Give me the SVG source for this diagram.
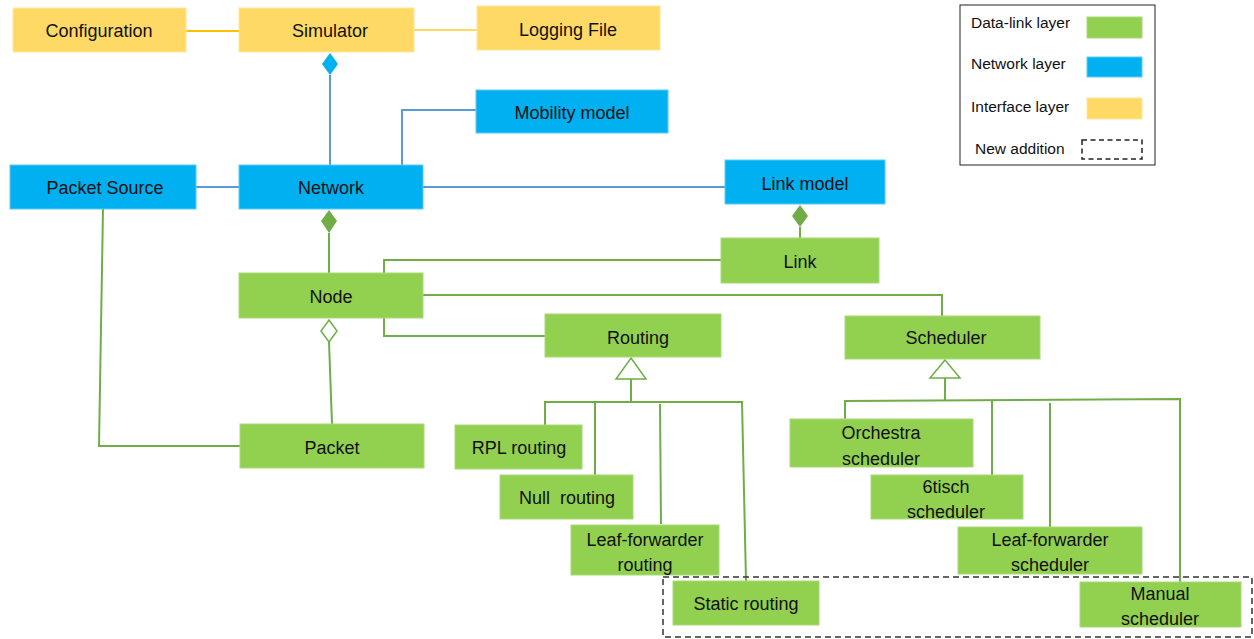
<svg xmlns="http://www.w3.org/2000/svg" width="1254" height="639" viewBox="0 0 1254 639">
  <style>
    text { font-family: "Liberation Sans", Arial, sans-serif; font-size: 18px; fill: #111; text-anchor: middle; }
    .leg { font-size: 15.5px; text-anchor: start; }
    .dl { fill: #92D050; stroke: #A9DA78; stroke-width: 1; }
    .nw { fill: #00B0F0; stroke: #5CCBF3; stroke-width: 1; }
    .if { fill: #FFD966; stroke: #FFE699; stroke-width: 1; }
    .g { stroke: #70AD47; stroke-width: 2; fill: none; }
    .b { stroke: #5B9BD5; stroke-width: 2; fill: none; }
    .dash { fill: none; stroke: #333; stroke-width: 1.5; stroke-dasharray: 6 4; }
  </style>

  <!-- connectors -->
  <g id="connectors">
    <line x1="186" y1="31" x2="239" y2="31" stroke="#FFC000" stroke-width="2"/>
    <line x1="414" y1="30" x2="477" y2="30" stroke="#FFD966" stroke-width="2"/>
    <!-- Simulator composed of Network -->
    <polygon points="330,53 338,64 330,75 322,64" fill="#00B0F0"/>
    <line class="b" x1="330" y1="75" x2="330" y2="165"/>
    <polyline class="b" points="402,165 402,110 476,110"/>
    <line class="b" x1="196" y1="187" x2="239" y2="187"/>
    <line class="b" x1="423" y1="187" x2="725" y2="187"/>
    <!-- Link model composed of Link -->
    <polygon points="800,205 808,216 800,227 792,216" fill="#70AD47"/>
    <line class="g" x1="800" y1="227" x2="800" y2="238"/>
    <!-- Network composed of Node -->
    <polygon points="329,210 337,221 329,233 321,221" fill="#70AD47"/>
    <line class="g" x1="329" y1="233" x2="329" y2="273"/>
    <polyline class="g" points="721,260 384,260 384,273"/>
    <polyline class="g" points="423,295 942,295 942,316"/>
    <polyline class="g" points="384,318 384,336 545,336"/>
    <!-- Node aggregates Packet -->
    <polygon points="329,320 337,331 329,342 321,331" fill="#fff" stroke="#70AD47" stroke-width="1.5"/>
    <line class="g" x1="329" y1="342" x2="332" y2="424"/>
    <polyline class="g" points="103,209 99,446 240,446"/>
    <!-- Routing generalization -->
    <polygon points="631,358 646,379 616,379" fill="#fff" stroke="#70AD47" stroke-width="1.5"/>
    <line class="g" x1="631" y1="379" x2="631" y2="402"/>
    <polyline class="g" points="545,425 545,402 742,402 746,581"/>
    <line class="g" x1="595" y1="402" x2="595" y2="475"/>
    <line class="g" x1="660" y1="404" x2="661" y2="524"/>
    <!-- Scheduler generalization -->
    <polygon points="945,360 960,378 930,378" fill="#fff" stroke="#70AD47" stroke-width="1.5"/>
    <line class="g" x1="945" y1="378" x2="945" y2="401"/>
    <polyline class="g" points="845,419 845,401 1180,399 1180,582"/>
    <line class="g" x1="992" y1="401" x2="992" y2="475"/>
    <line class="g" x1="1050" y1="403" x2="1050" y2="527"/>
  </g>

  <!-- new addition frame -->
  <rect id="new-addition" class="dash" x="663" y="577" width="589" height="60"/>

  <!-- interface layer -->
  <g id="configuration"><rect class="if" x="13" y="8" width="173" height="44"/><text x="99" y="37">Configuration</text></g>
  <g id="simulator"><rect class="if" x="239" y="8" width="175" height="44"/><text x="330" y="37">Simulator</text></g>
  <g id="logging-file"><rect class="if" x="477" y="6" width="183" height="44"/><text x="568" y="36">Logging File</text></g>

  <!-- network layer -->
  <g id="mobility-model"><rect class="nw" x="476" y="90" width="192" height="43"/><text x="572" y="119">Mobility model</text></g>
  <g id="packet-source"><rect class="nw" x="10" y="165" width="186" height="44"/><text x="105" y="194">Packet Source</text></g>
  <g id="network"><rect class="nw" x="239" y="165" width="184" height="44"/><text x="331" y="194">Network</text></g>
  <g id="link-model"><rect class="nw" x="725" y="160" width="160" height="44"/><text x="805" y="190">Link model</text></g>

  <!-- data-link layer -->
  <g id="link"><rect class="dl" x="721" y="238" width="158" height="45"/><text x="800" y="268">Link</text></g>
  <g id="node"><rect class="dl" x="239" y="273" width="184" height="45"/><text x="331" y="303">Node</text></g>
  <g id="routing"><rect class="dl" x="545" y="314" width="176" height="43"/><text x="638" y="344">Routing</text></g>
  <g id="scheduler"><rect class="dl" x="845" y="316" width="195" height="43"/><text x="946" y="344">Scheduler</text></g>
  <g id="packet"><rect class="dl" x="240" y="424" width="184" height="44"/><text x="332" y="454">Packet</text></g>

  <g id="rpl-routing"><rect class="dl" x="455" y="425" width="127" height="44"/><text x="519" y="454">RPL routing</text></g>
  <g id="null-routing"><rect class="dl" x="500" y="475" width="133" height="44"/><text x="567" y="504" xml:space="preserve">Null  routing</text></g>
  <g id="leaf-forwarder-routing"><rect class="dl" x="571" y="525" width="148" height="50"/><text x="645" y="546">Leaf-forwarder</text><text x="645" y="571">routing</text></g>
  <g id="static-routing"><rect class="dl" x="673" y="581" width="146" height="44"/><text x="746" y="610">Static routing</text></g>

  <g id="orchestra-scheduler"><rect class="dl" x="790" y="419" width="183" height="48"/><text x="881" y="439">Orchestra</text><text x="881" y="465">scheduler</text></g>
  <g id="tisch-scheduler"><rect class="dl" x="871" y="475" width="152" height="44"/><text x="946" y="493">6tisch</text><text x="946" y="518">scheduler</text></g>
  <g id="leaf-forwarder-scheduler"><rect class="dl" x="958" y="527" width="184" height="47"/><text x="1050" y="546">Leaf-forwarder</text><text x="1050" y="571">scheduler</text></g>
  <g id="manual-scheduler"><rect class="dl" x="1080" y="582" width="161" height="45"/><text x="1160" y="600">Manual</text><text x="1160" y="625">scheduler</text></g>

  <!-- legend -->
  <g id="legend">
    <rect x="960" y="5" width="195" height="160" fill="#fff" stroke="#222" stroke-width="1"/>
    <text class="leg" x="971" y="28">Data-link layer</text>
    <rect class="dl" x="1087" y="17" width="55" height="21"/>
    <text class="leg" x="971" y="69">Network layer</text>
    <rect class="nw" x="1087" y="57" width="55" height="20"/>
    <text class="leg" x="971" y="112">Interface layer</text>
    <rect class="if" x="1087" y="98" width="55" height="21"/>
    <text class="leg" x="975" y="154">New addition</text>
    <rect x="1082" y="140" width="60" height="19" fill="none" stroke="#222" stroke-width="1.5" stroke-dasharray="5 3.5"/>
  </g>
</svg>
